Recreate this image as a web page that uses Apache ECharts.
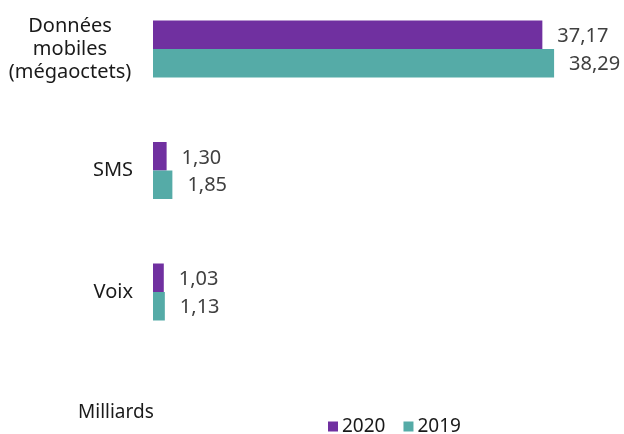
<!DOCTYPE html>
<html>
<head>
<meta charset="utf-8">
<script src="https://cdn.jsdelivr.net/npm/echarts@6/dist/echarts.min.js"></script>
<style>html,body{margin:0;padding:0;background:#fff;}#c{width:624px;height:434px;}</style>
</head>
<body>
<div id="c"></div>
<script>
const categories = ['Données\nmobiles\n(mégaoctets)', 'SMS', 'Voix'];
const seriesNames = ['2020', '2019'];
const values2020 = [37.17, 1.30, 1.03];
const values2019 = [38.29, 1.85, 1.13];
const unitLabel = 'Milliards';

const colors = ['#7030A0', '#55ABA7'];
const font = 'Noto Sans';
const fmt = v => v.toFixed(2).replace('.', ',');

const chart = echarts.init(document.getElementById('c'));
chart.setOption({
  animation: false,
  color: colors,
  title: {
    text: unitLabel, left: 73, top: 398,
    textStyle: {fontFamily: font, fontSize: 19, fontWeight: 'normal', color: '#1a1a1a'}
  },
  legend: {
    data: seriesNames, left: 323, top: 412, itemWidth: 10, itemHeight: 10, itemGap: 18, icon: 'rect',
    textStyle: {fontFamily: font, fontSize: 19, color: '#1a1a1a', padding: [0, 0, 0, -1]}
  },
  grid: {left: 153, top: 49, width: 419, height: 243},
  xAxis: {type: 'value', min: 0, max: 40, show: false},
  yAxis: {
    type: 'category', data: categories, inverse: true, boundaryGap: false,
    axisLine: {show: false}, axisTick: {show: false},
    axisLabel: {
      margin: 20, align: 'right',
      formatter: v => v.indexOf('\n') >= 0
        ? v.split('\n').map(s => '{c|' + s + '}').join('\n')
        : '{r|' + v + '}',
      rich: {
        c: {fontFamily: font, fontSize: 20, color: '#1a1a1a', lineHeight: 23, align: 'center', width: 126},
        r: {fontFamily: font, fontSize: 20, color: '#1a1a1a', lineHeight: 23}
      }
    }
  },
  series: [
    {name: seriesNames[0], type: 'bar', data: values2020, barWidth: 28.5, barGap: '0%',
     label: {show: true, position: 'right', distance: 15, offset: [0, 2], formatter: p => fmt(p.value),
       fontFamily: font, fontSize: 20, color: '#404040'}},
    {name: seriesNames[1], type: 'bar', data: values2019, barWidth: 28.5, barGap: '0%',
     label: {show: true, position: 'right', distance: 15, offset: [0, 1], formatter: p => fmt(p.value),
       fontFamily: font, fontSize: 20, color: '#404040'}}
  ]
});
</script>
</body>
</html>
